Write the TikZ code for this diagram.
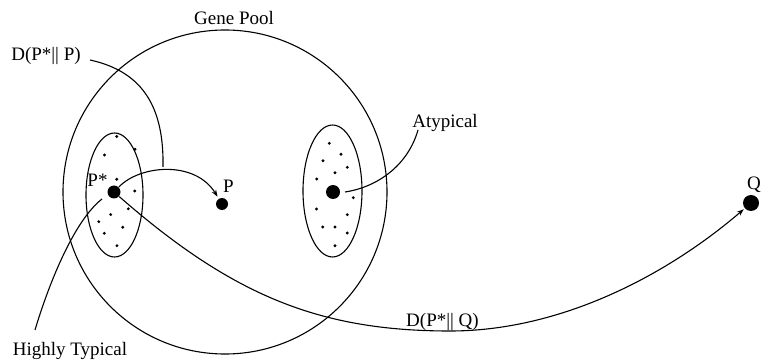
\documentclass[tikz,border=0pt]{standalone}
\usepackage{fontspec}
\setmainfont{Liberation Serif}
\usetikzlibrary{arrows.meta}
\begin{document}
\begin{tikzpicture}[x=1pt,y=-1pt,
  line width=1.1pt,
  lbl/.style={anchor=base, inner sep=0pt, font=\fontsize{19}{22}\selectfont},
  bigdot/.style={circle, fill=black, draw=none, inner sep=0pt, minimum size=#1},
  smalldot/.style={fill=black, draw=none},
  tip/.style={-{Stealth[length=7pt,width=5pt]}}]
\useasboundingbox (0,0) rectangle (762,363);

% gene pool and sub-populations
\draw (225,192) circle (162);
\draw (114.5,195) ellipse [x radius=28.5, y radius=62];
\draw (332.5,191) ellipse [x radius=29.5, y radius=66];

% small dots, left ellipse
\foreach \p in {(116.7,136.5),(104.5,155),(135,149.3),(116.7,179.2),(134.7,191),
  (128.3,208.8),(110.7,214.6),(98.8,221.7),(122.7,227.3),(104.3,233.3),(116.9,245.7)}
  \fill[smalldot] \p circle (1.6);
% small dots, right ellipse
\foreach \p in {(329.3,143.3),(341,154.3),(323,160.7),(347.3,167.3),(335,172.7),
  (316.7,179),(353.3,197.7),(316.4,209),(347.3,214.7),(322.7,227),(335,227),
  (347.3,233),(335,245.8)}
  \fill[smalldot] \p circle (1.6);

% big dots
\node[bigdot=13pt] (pstar) at (114,192) {};
\node[bigdot=14pt] (atyp) at (333,192) {};
\node[bigdot=12pt] (p) at (222,204) {};
\node[bigdot=16pt] (q) at (751,203) {};

% labels
\node[lbl] (gene) at (234,25) {Gene Pool};
\node[lbl] (dpp) at (46,61) {D(P*|| P)};
\node[lbl] (aty) at (445,128) {Atypical};
\node[lbl] (ht) at (70,355) {Highly Typical};
\node[lbl] (dpq) at (442.5,326) {D(P*|| Q)};
\node[lbl] (pstarl) at (97.5,187) {P*};
\node[lbl] (pl) at (228.5,193) {P};
\node[lbl] (ql) at (754,190) {Q};

% free ends of pointer curves
\coordinate (dppstart) at (90,60);
\coordinate (arcjoin) at (163,167);
\coordinate (atystart) at (418,130);
\coordinate (atyend) at (345,192);
\coordinate (htstart) at (35,330);
\coordinate (htend) at (102,199);
\coordinate (bottom) at (450,331);

% P* -> P
\draw[tip, shorten >=2pt] (pstar) .. controls (140,165) and (195,160) .. (p);
% pointer from D(P*||P) label to the arc
\draw (dppstart) .. controls (145,72) and (164,110) .. (arcjoin);
% Atypical pointer
\draw (atystart) .. controls (408,165) and (378,187) .. (atyend);
% Highly typical pointer
\draw (htstart) .. controls (50,280) and (75,220) .. (htend);
% P* -> Q
\draw[tip, shorten >=1pt] (pstar) .. controls (233,296) and (320,331) .. (bottom)
  .. controls (560,331) and (666,276) .. (q);
\end{tikzpicture}
\end{document}
